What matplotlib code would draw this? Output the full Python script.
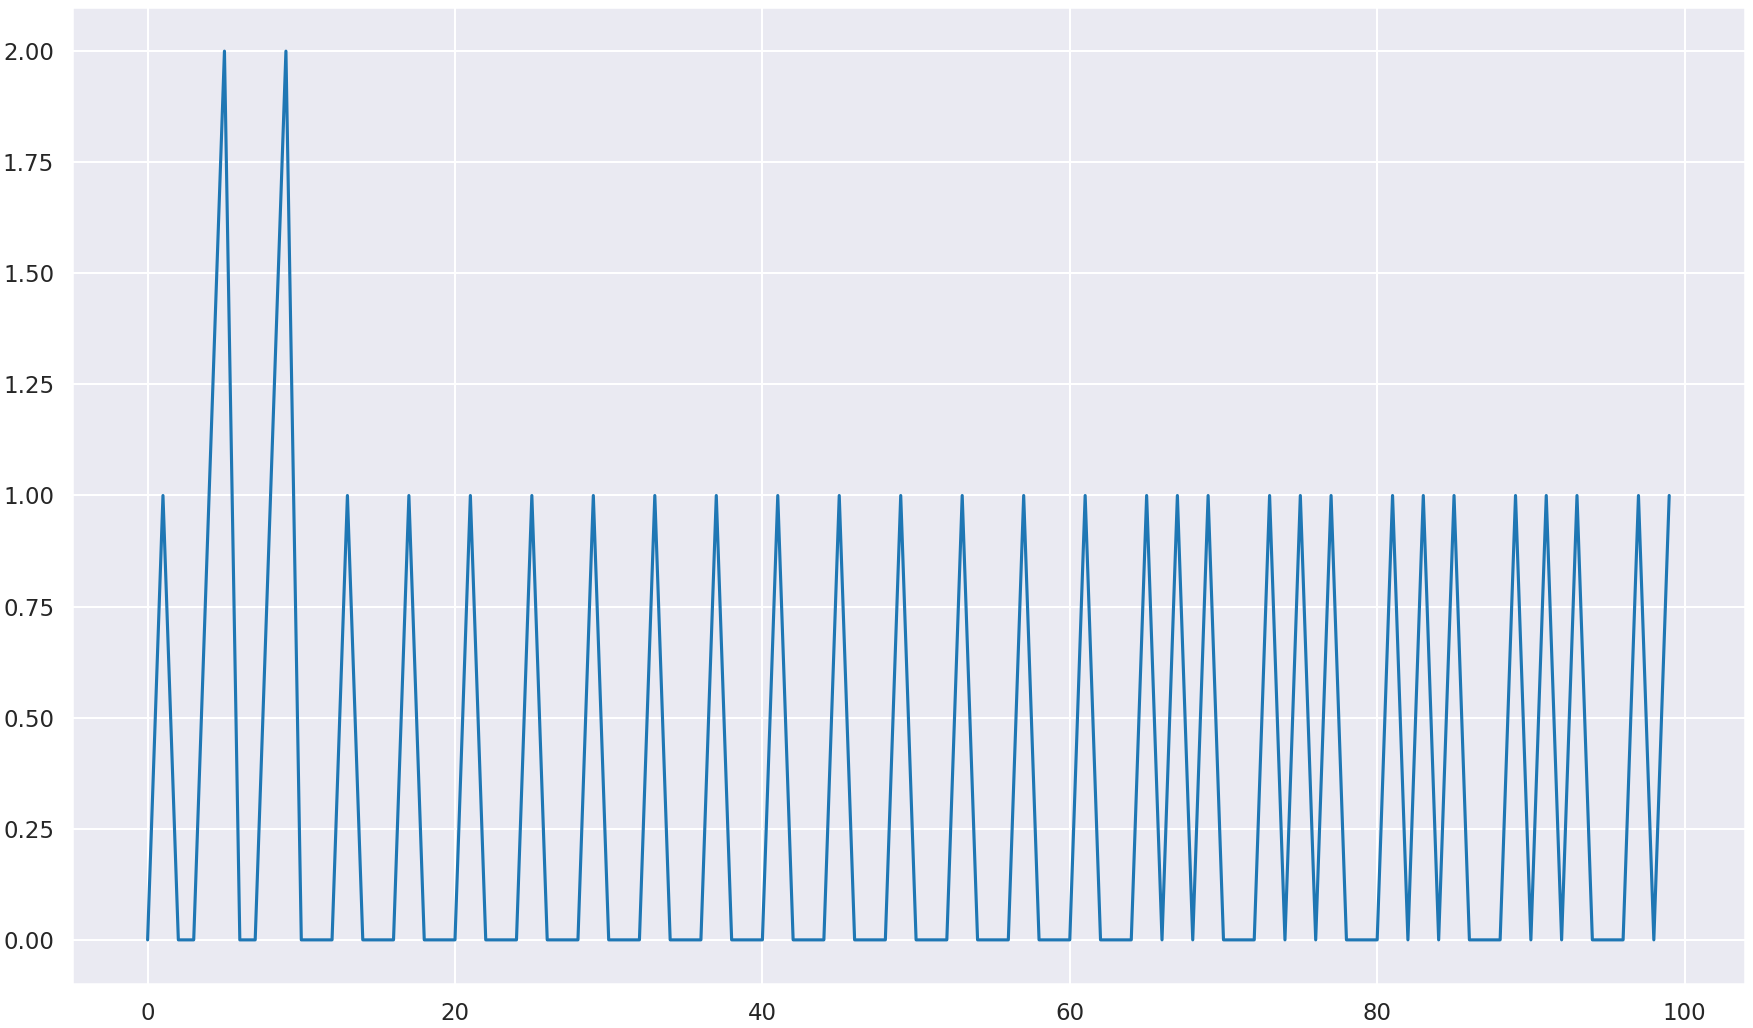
import matplotlib
matplotlib.use("Agg")
import matplotlib.pyplot as plt
import seaborn as sns

sns.set_theme(style="darkgrid", context="talk")

x_values = list(range(100))
y_values = [
    0, 1, 0, 0, 1, 2, 0, 0, 1, 2,
    0, 0, 0, 1, 0, 0, 0, 1, 0, 0,
    0, 1, 0, 0, 0, 1, 0, 0, 0, 1,
    0, 0, 0, 1, 0, 0, 0, 1, 0, 0,
    0, 1, 0, 0, 0, 1, 0, 0, 0, 1,
    0, 0, 0, 1, 0, 0, 0, 1, 0, 0,
    0, 1, 0, 0, 0, 1, 0, 1, 0, 1,
    0, 0, 0, 1, 0, 1, 0, 1, 0, 0,
    0, 1, 0, 1, 0, 1, 0, 0, 0, 1,
    0, 1, 0, 1, 0, 0, 0, 1, 0, 1,
]

fig = plt.figure(figsize=(17.53, 10.28), dpi=100)
left, right, bottom, top = 0.0408, 0.9956, 0.0425, 0.9935
ax = fig.add_axes([left, bottom, right - left, top - bottom])
ax.plot(x_values, y_values, color="#1f77b4")
ax.set_yticks([0, 0.25, 0.5, 0.75, 1.0, 1.25, 1.5, 1.75, 2.0])
ax.set_yticklabels(["0.00", "0.25", "0.50", "0.75", "1.00", "1.25", "1.50", "1.75", "2.00"])
fig.savefig("out.png", dpi=100)
